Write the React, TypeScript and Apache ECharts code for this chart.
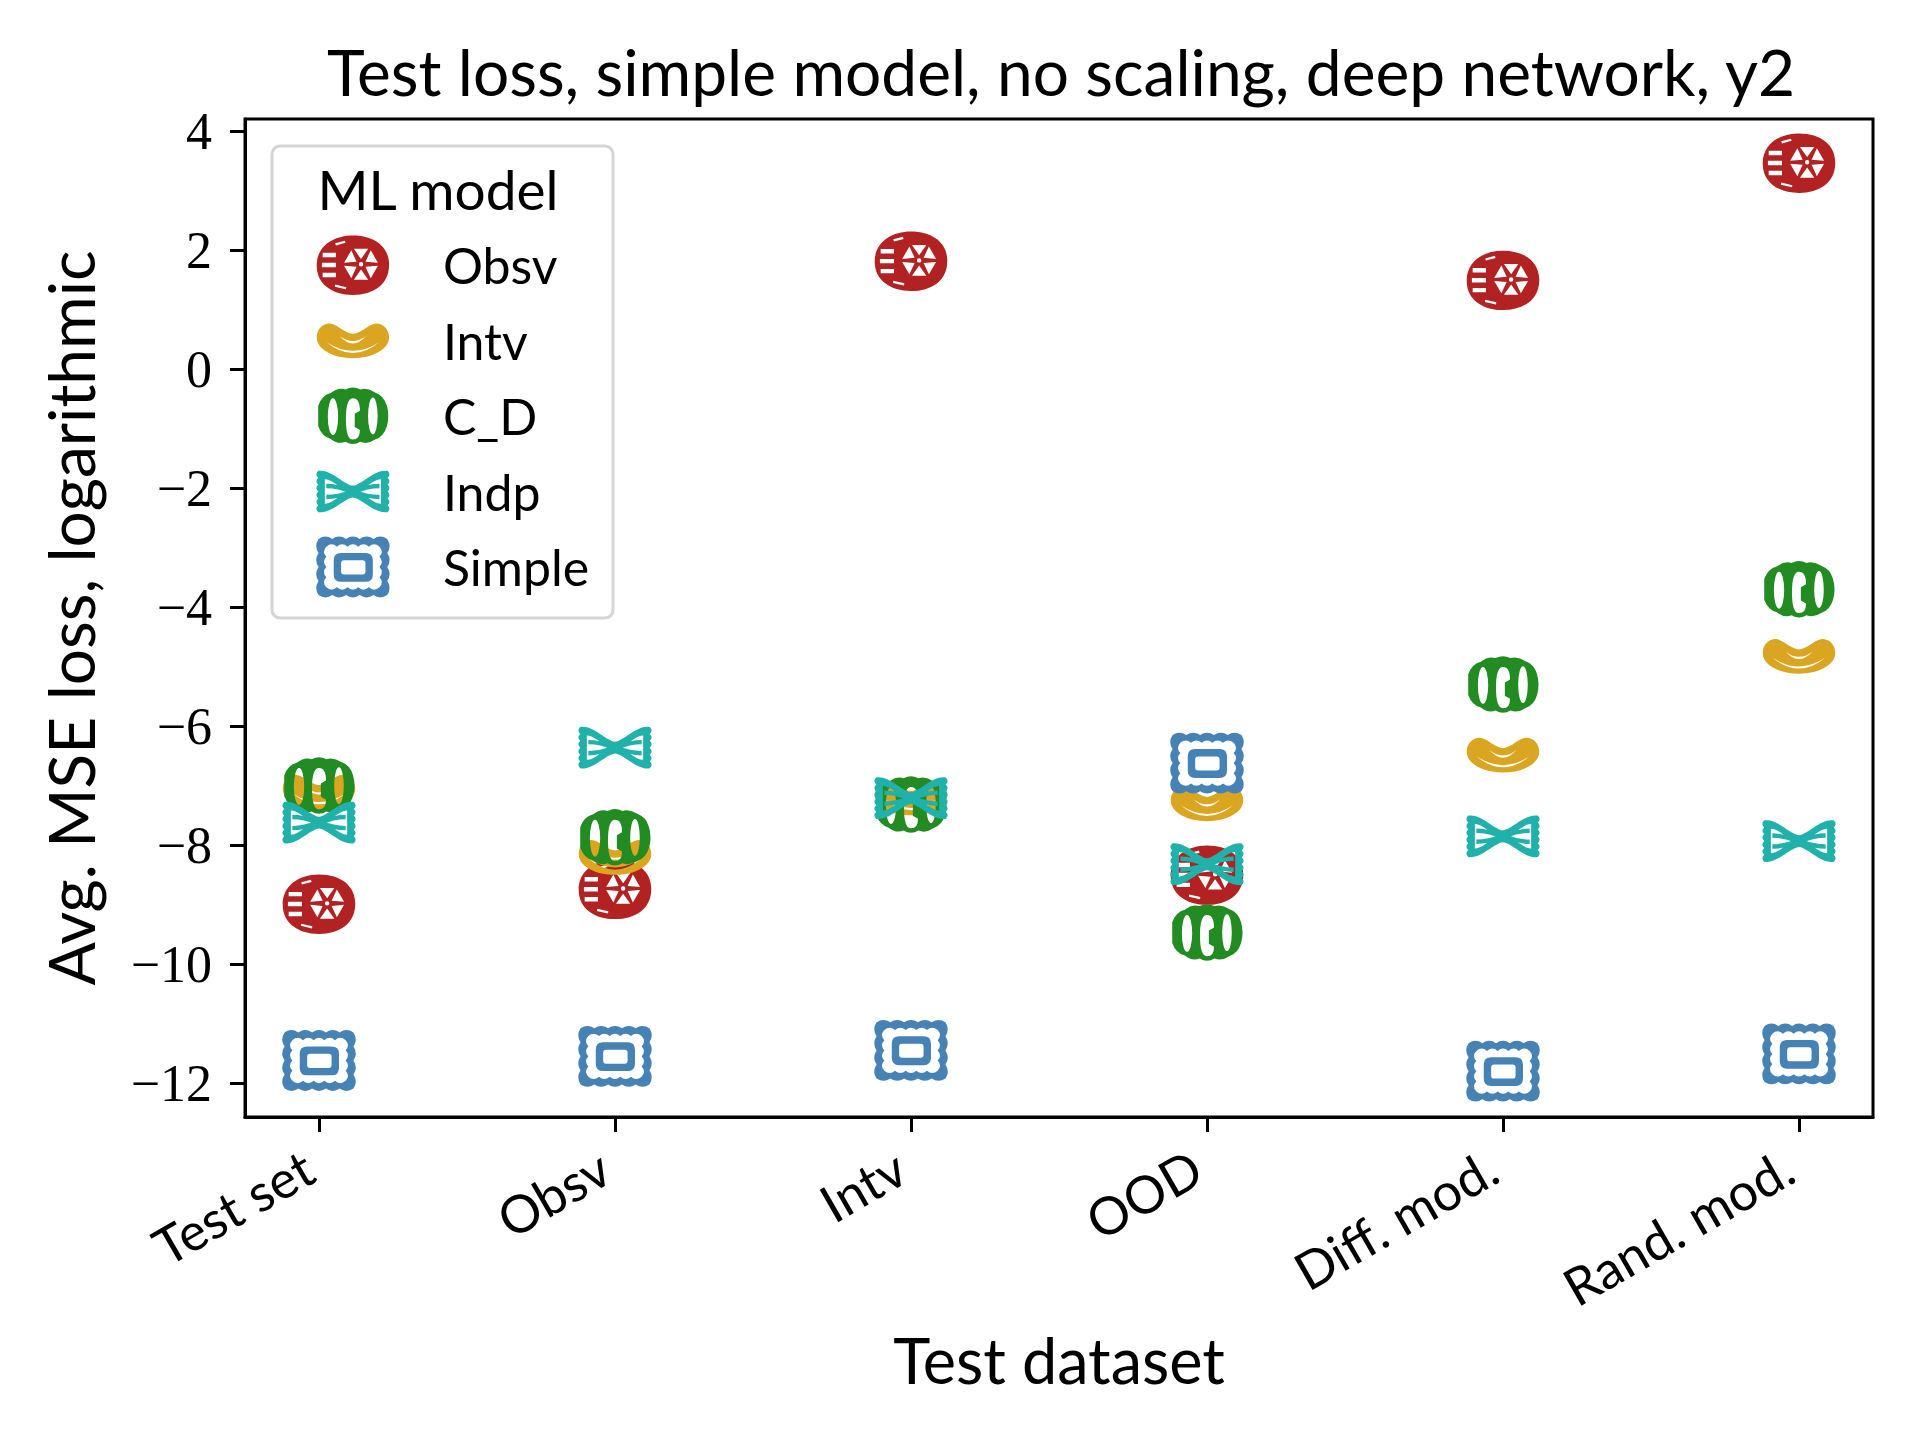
import React, { useEffect, useRef } from "react";
import * as echarts from "echarts";

// ---------- data ----------
const categories = ["Test set", "Obsv", "Intv", "OOD", "Diff. mod.", "Rand. mod."];
const modelNames = ["Obsv", "Intv", "C_D", "Indp", "Simple"];
const obsvLoss = [-8.99, -8.74, 1.82, -8.5, 1.5, 3.47];
const intvLoss = [-7.1, -8.2, -7.2, -7.3, -6.48, -4.82];
const cdLoss = [-7.0, -7.87, -7.32, -9.47, -5.3, -3.7];
const indpLoss = [-7.62, -6.36, -7.21, -8.32, -7.85, -7.93];
const simpleLoss = [-11.62, -11.55, -11.45, -6.62, -11.8, -11.51];
const yTicks = [-12, -10, -8, -6, -4, -2, 0, 2, 4];
const xTicks = [0, 1, 2, 3, 4, 5];

const colors = ["#B22222", "#DAA520", "#228B22", "#20B2AA", "#4682B4"];

// ---------- marker shapes (100 x 84 box) ----------
const BOX = "M0 0 M100 84 ";
const f = (n: number) => Math.round(n * 100) / 100;

function polyArea(pts: number[][]) {
  let a = 0;
  for (let i = 0; i < pts.length; i++) {
    const [x1, y1] = pts[i];
    const [x2, y2] = pts[(i + 1) % pts.length];
    a += x1 * y2 - x2 * y1;
  }
  return a / 2;
}
function poly(pts: number[][], cw: boolean) {
  let p = pts.slice();
  const a = polyArea(p);
  if ((a > 0) !== cw) p = p.reverse();
  return "M" + p.map((q) => f(q[0]) + " " + f(q[1])).join(" L") + " Z ";
}
function ellipseCCW(cx: number, cy: number, rx: number, ry: number) {
  return `M${cx - rx} ${cy} A${rx} ${ry} 0 0 0 ${cx + rx} ${cy} A${rx} ${ry} 0 0 0 ${cx - rx} ${cy} Z `;
}
function scallop(x0: number, y0: number, x1: number, y1: number, nx: number, ny: number, a: number, cw: boolean) {
  let d = `M${x0} ${y0} `;
  const w = x1 - x0, h = y1 - y0;
  if (cw) {
    for (let i = 0; i < nx; i++) d += `Q${f(x0 + (w * (i + 0.5)) / nx)} ${y0 - 2 * a} ${f(x0 + (w * (i + 1)) / nx)} ${y0} `;
    for (let i = 0; i < ny; i++) d += `Q${x1 + 2 * a} ${f(y0 + (h * (i + 0.5)) / ny)} ${x1} ${f(y0 + (h * (i + 1)) / ny)} `;
    for (let i = 0; i < nx; i++) d += `Q${f(x1 - (w * (i + 0.5)) / nx)} ${y1 + 2 * a} ${f(x1 - (w * (i + 1)) / nx)} ${y1} `;
    for (let i = 0; i < ny; i++) d += `Q${x0 - 2 * a} ${f(y1 - (h * (i + 0.5)) / ny)} ${x0} ${f(y1 - (h * (i + 1)) / ny)} `;
  } else {
    for (let i = 0; i < ny; i++) d += `Q${x0 - 2 * a} ${f(y0 + (h * (i + 0.5)) / ny)} ${x0} ${f(y0 + (h * (i + 1)) / ny)} `;
    for (let i = 0; i < nx; i++) d += `Q${f(x0 + (w * (i + 0.5)) / nx)} ${y1 + 2 * a} ${f(x0 + (w * (i + 1)) / nx)} ${y1} `;
    for (let i = 0; i < ny; i++) d += `Q${x1 + 2 * a} ${f(y1 - (h * (i + 0.5)) / ny)} ${x1} ${f(y1 - (h * (i + 1)) / ny)} `;
    for (let i = 0; i < nx; i++) d += `Q${f(x1 - (w * (i + 0.5)) / nx)} ${y0 - 2 * a} ${f(x1 - (w * (i + 1)) / nx)} ${y0} `;
  }
  return d + "Z ";
}
function roundRect(x0: number, y0: number, x1: number, y1: number, r: number, cw: boolean) {
  if (cw)
    return `M${x0 + r} ${y0} L${x1 - r} ${y0} Q${x1} ${y0} ${x1} ${y0 + r} L${x1} ${y1 - r} Q${x1} ${y1} ${x1 - r} ${y1} L${x0 + r} ${y1} Q${x0} ${y1} ${x0} ${y1 - r} L${x0} ${y0 + r} Q${x0} ${y0} ${x0 + r} ${y0} Z `;
  return `M${x0 + r} ${y0} Q${x0} ${y0} ${x0} ${y0 + r} L${x0} ${y1 - r} Q${x0} ${y1} ${x0 + r} ${y1} L${x1 - r} ${y1} Q${x1} ${y1} ${x1} ${y1 - r} L${x1} ${y0 + r} Q${x1} ${y0} ${x1 - r} ${y0} Z `;
}

function rotelle() {
  let d = BOX + "M1 44 C0 18 22 2 50 2 C80 2 99.5 18 99 42 C99 68 78 82.5 50 82.5 C22 82.5 1.5 68 1 44 Z ";
  d += poly([[9, 25.5], [27, 25.5], [27, 31.5], [9, 31.5]], false);
  d += poly([[8, 39], [27, 39], [27, 45], [8, 45]], false);
  d += poly([[9, 52.5], [27, 52.5], [27, 58.5], [9, 58.5]], false);
  d += poly([[26, 12.5], [39, 9], [40, 12], [27, 15.5]], false);
  d += poly([[26, 68.5], [41, 72], [40.5, 75], [25.5, 71.5]], false);
  const cx = 61, cy = 41;
  for (let i = 0; i < 6; i++) {
    const t = ((i * 60 + 30) * Math.PI) / 180;
    const s = (25 * Math.PI) / 180;
    d += poly(
      [
        [cx + 7 * Math.cos(t), cy + 7 * Math.sin(t)],
        [cx + 23 * Math.cos(t - s), cy + 23 * Math.sin(t - s)],
        [cx + 23 * Math.cos(t + s), cy + 23 * Math.sin(t + s)],
      ],
      false
    );
  }
  d += ellipseCCW(cx, cy, 3, 3);
  return d;
}
function elbow() {
  let d = BOX + "M1 38 C1 26 10 19 18 19 C28 19 38 32 50 33 C62 32 72 19 82 19 C90 19 99 26 99 38 C99 55 75 66 50 66 C25 66 1 55 1 38 Z ";
  d += "M32 36 Q50 56 68 36 Q50 50 32 36 Z ";
  d += "M14 44 Q50 74 86 44 Q50 68 14 44 Z ";
  return d;
}
function rigatoni() {
  let d = BOX + "M3 28 Q8 14 20 11 Q30 3 40 6 Q50 1 60 6 Q70 3 80 10 Q92 14 96 28 Q100 42 96 56 Q92 70 80 74 Q70 81 60 77 Q50 83 40 77 Q30 81 20 73 Q8 70 3 56 L3 28 Z ";
  d += ellipseCCW(23, 43, 7, 25);
  d += ellipseCCW(77, 42, 6.5, 25);
  d += "M50 18 Q40.5 18 40.5 46 Q40.5 74 50 74 Q59.5 74 59.5 61 L52.5 57 L52.5 39 L59.5 35 Q59.5 18 50 18 Z ";
  return d;
}
function farfalle() {
  let d = BOX + "M3 14 C20 11 38 33 50 34 C62 33 80 11 97 14 ";
  d += "Q102 19 97 23.5 Q102 28 97 32.5 Q102 37 97 42 Q102 47 97 51.5 Q102 56 97 60.5 Q102 65 97 70 ";
  d += "C80 73 62 51 50 50 C38 51 20 73 3 70 ";
  d += "Q-2 65 3 60.5 Q-2 56 3 51.5 Q-2 47 3 42 Q-2 37 3 32.5 Q-2 28 3 23.5 Q-2 19 3 14 Z ";
  d += "M42 42 C35 39.5 22 25 12 25.5 L12 58.5 C22 59 35 44.5 42 42 Z ";
  d += "M58 42 C65 44.5 78 59 88 58.5 L88 25.5 C78 25 65 39.5 58 42 Z ";
  d += "M14 31.5 Q30 31.5 46 39.5 L46 44.5 Q30 37.5 14 37.5 Z ";
  d += "M14 46.5 Q30 46.5 46 39.5 L46 44.5 Q30 52.5 14 52.5 Z ";
  d += "M54 39.5 Q70 31.5 86 31.5 L86 37.5 Q70 37.5 54 44.5 Z ";
  d += "M54 39.5 Q70 46.5 86 46.5 L86 52.5 Q70 52.5 54 44.5 Z ";
  return d;
}
function ravioli() {
  let d = BOX + scallop(3.5, 4, 96.5, 80, 5, 4, 3.2, true);
  d += scallop(14, 14.5, 86, 69.5, 5, 4, 3.2, false);
  d += roundRect(24, 23, 77, 62, 10, true);
  d += roundRect(34, 33, 67, 52, 4, false);
  return d;
}

const shapes = [rotelle(), elbow(), rigatoni(), farfalle(), ravioli()].map((s) => "path://" + s);
const seriesValues = [obsvLoss, intvLoss, cdLoss, indpLoss, simpleLoss];

const SANS = "Lato, 'Noto Sans', sans-serif";
const SERIF = "'Liberation Serif', 'DejaVu Serif', serif";
const minus = (v: number) => (v < 0 ? "\u2212" + Math.abs(v) : String(v));

export default function App() {
  const ref = useRef<HTMLDivElement>(null);
  useEffect(() => {
    document.body.style.margin = "0";
    const chart = echarts.init(ref.current!, null, { renderer: "svg" });
    const option: any = {
      animation: false,
      backgroundColor: "#ffffff",
      grid: { left: 245, top: 119, width: 1628, height: 998, show: true, borderColor: "#000", borderWidth: 3, backgroundColor: "transparent" },
      xAxis: {
        type: "value",
        min: -0.25,
        max: 5.25,
        splitLine: { show: false },
        axisLine: { show: true, onZero: false, lineStyle: { color: "#000", width: 3 } },
        axisTick: { show: true, customValues: xTicks, length: 15, lineStyle: { color: "#000", width: 3 } },
        axisLabel: {
          customValues: xTicks,
          formatter: (v: number) => categories[Math.round(v)] ?? "",
          rotate: 30,
          margin: 40,
          padding: [0, 12, 0, 0],
          fontFamily: SANS,
          fontSize: 52,
          color: "#000",
        },
      },
      yAxis: {
        type: "value",
        min: -12.57,
        max: 4.21,
        splitLine: { show: false },
        axisLine: { show: true, onZero: false, lineStyle: { color: "#000", width: 3 } },
        axisTick: { show: true, customValues: yTicks, length: 15, lineStyle: { color: "#000", width: 3 } },
        axisLabel: {
          customValues: yTicks,
          formatter: (v: number) => minus(v),
          margin: 33,
          fontFamily: SERIF,
          fontSize: 52,
          color: "#000",
        },
      },
      legend: {
        orient: "vertical",
        left: 311,
        top: 229,
        itemWidth: 74,
        itemHeight: 62,
        itemGap: 13.5,
        selectedMode: false,
        itemStyle: { borderWidth: 0 },
        textStyle: { fontFamily: SANS, fontSize: 50, color: "#000", padding: [0, 0, 0, 48] },
        data: modelNames.map((n, i) => ({ name: n, icon: shapes[i] })),
      },
      graphic: [
        { type: "rect", z: 0, shape: { x: 272, y: 146, width: 341, height: 472, r: 8 }, style: { fill: "rgba(255,255,255,0.8)", stroke: "#d5d5d5", lineWidth: 3 } },
        { type: "text", x: 438, y: 189, style: { text: "ML model", font: `55px ${SANS}`, fill: "#000", align: "center", verticalAlign: "middle" } },
        { type: "text", x: 1061, y: 71, style: { text: "Test loss, simple model, no scaling, deep network, y2", font: `64px ${SANS}`, fill: "#000", align: "center", verticalAlign: "middle" } },
        { type: "text", x: 1059, y: 1359, style: { text: "Test dataset", font: `63px ${SANS}`, fill: "#000", align: "center", verticalAlign: "middle" } },
        { type: "text", x: 70, y: 618, rotation: Math.PI / 2, style: { text: "Avg. MSE loss, logarithmic", font: `64px ${SANS}`, fill: "#000", align: "center", verticalAlign: "middle" } },
      ],
      series: modelNames.map((n, i) => ({
        name: n,
        type: "scatter",
        symbol: shapes[i],
        symbolSize: [74, 62],
        symbolKeepAspect: false,
        itemStyle: { color: colors[i], borderWidth: 0, opacity: 1 },
        emphasis: { disabled: true },
        data: seriesValues[i].map((v, j) => [j, v]),
      })),
    };
    chart.setOption(option);
    return () => chart.dispose();
  }, []);
  return <div ref={ref} style={{ width: 1920, height: 1440 }} />;
}
